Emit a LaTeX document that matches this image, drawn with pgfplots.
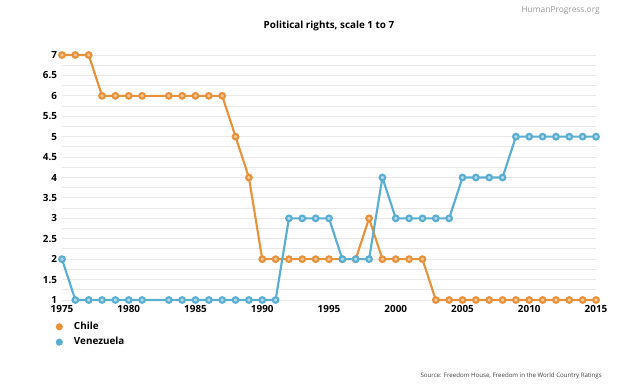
\documentclass[border=0pt]{standalone}
\usepackage{fontspec}
\setmainfont{Open Sans}
\usepackage{pgfplots}
\usepackage{pgfplotstable}
\pgfplotsset{compat=1.18}
\definecolor{chileor}{RGB}{232,146,60}
\definecolor{venbl}{RGB}{90,174,210}
\definecolor{gridc}{RGB}{232,232,232}

\pgfplotstableread{
year val
1975 7
1976 7
1977 7
1978 6
1979 6
1980 6
1981 6
1983 6
1984 6
1985 6
1986 6
1987 6
1988 5
1989 4
1990 2
1991 2
1992 2
1993 2
1994 2
1995 2
1996 2
1997 2
1998 3
1999 2
2000 2
2001 2
2002 2
2003 1
2004 1
2005 1
2006 1
2007 1
2008 1
2009 1
2010 1
2011 1
2012 1
2013 1
2014 1
2015 1
}\chile

\pgfplotstableread{
year val
1975 2
1976 1
1977 1
1978 1
1979 1
1980 1
1981 1
1983 1
1984 1
1985 1
1986 1
1987 1
1988 1
1989 1
1990 1
1991 1
1992 3
1993 3
1994 3
1995 3
1996 2
1997 2
1998 2
1999 4
2000 3
2001 3
2002 3
2003 3
2004 3
2005 4
2006 4
2007 4
2008 4
2009 5
2010 5
2011 5
2012 5
2013 5
2014 5
2015 5
}\venez

\begin{document}
\begin{tikzpicture}
\path[use as bounding box] (0pt,0pt) rectangle (468pt,289.5pt);
\begin{axis}[
  at={(46.5pt,64.5pt)}, anchor=south west,
  scale only axis, width=400.5pt, height=183.75pt,
  xmin=1975, xmax=2015, ymin=1, ymax=7,
  clip=false,
  axis line style={draw=none},
  tick style={draw=none},
  xtick={1975,1980,...,2015},
  ytick={1,1.5,...,7},
  minor y tick num=1,
  ymajorgrids, yminorgrids,
  major grid style={gridc, line width=0.7pt},
  minor grid style={gridc, line width=0.7pt},
  /pgf/number format/assume math mode=true,
  /pgf/number format/1000 sep={},
  yticklabel style={/pgf/number format/fixed, anchor=east, inner sep=0pt, xshift=-3.5pt},
  xticklabel style={anchor=north, inner sep=0pt, yshift=-3.5pt},
  tick label style={font=\fontsize{7.4}{8}\selectfont\bfseries},
  title={Political rights, scale 1 to 7},
  title style={at={(0.5,1)}, anchor=base, yshift=14.25pt, font=\fontsize{7.4}{8}\selectfont\bfseries},
  legend style={draw=none, fill=none, at={(-0.013,-0.078)}, anchor=north west,
    font=\fontsize{7.4}{8}\selectfont\bfseries, row sep=0.4pt, inner sep=0pt},
  legend cell align=left,
  legend image code/.code={\fill[draw=none] (3pt,0) circle (2.7pt); \path[draw=none,fill=none] (0pt,0pt) -- (12pt,0pt);},
]
\addplot[color=chileor, line width=1.6pt, mark=*, mark size=2.1pt,
  mark options={draw=none, fill=chileor!50!white}] table[x=year,y=val] {\chile};
\addlegendentry{Chile}
\addplot[color=venbl, line width=1.6pt, mark=*, mark size=2.1pt,
  mark options={draw=none, fill=venbl!45!white}] table[x=year,y=val] {\venez};
\addlegendentry{Venezuela}
\end{axis}
\node[anchor=base east, font=\fontsize{6.3}{7}\selectfont, text=gray!80, inner sep=0pt] at (450pt,279.75pt) {HumanProgress.org};
\node[anchor=base east, font=\fontsize{4.6}{5}\selectfont, text=black!75, inner sep=0pt] at (451.5pt,6.75pt) {Source: Freedom House, Freedom in the World Country Ratings};
\end{tikzpicture}
\end{document}
